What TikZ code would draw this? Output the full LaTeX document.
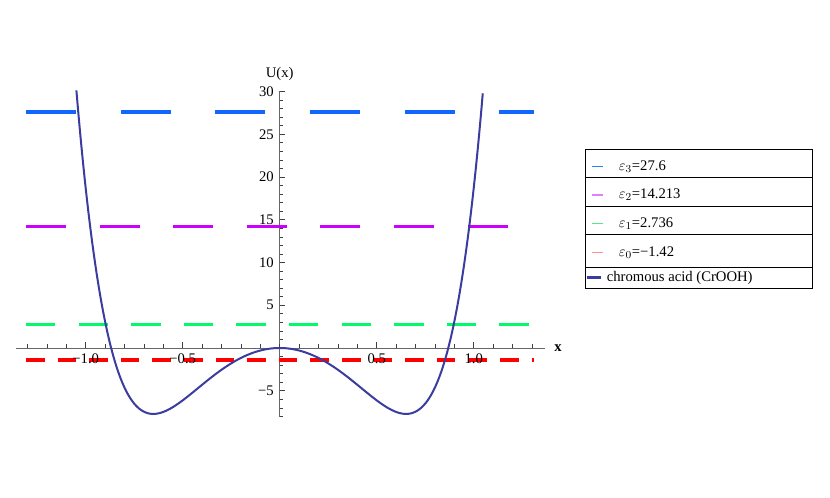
\documentclass[tikz,border=0pt]{standalone}
\usepackage{fontspec}
\setmainfont{Liberation Serif}
\usepackage{amsmath}
\usepackage{xcolor}
\usetikzlibrary{calc}

\definecolor{epsblue}{RGB}{16,102,255}
\definecolor{epsmagenta}{RGB}{204,0,255}
\definecolor{epsgreen}{RGB}{0,250,105}
\definecolor{epsred}{RGB}{255,0,0}
\definecolor{legblue}{RGB}{40,130,255}
\definecolor{legmagenta}{RGB}{225,125,255}
\definecolor{leggreen}{RGB}{90,230,140}
\definecolor{legred}{RGB}{255,145,145}
\definecolor{curveblue}{RGB}{60,60,160}

\begin{document}
\begin{tikzpicture}[x=0.75pt,y=0.75pt,yscale=-1,xscale=1,
    axisline/.style={draw=black!60, line width=0.6pt},
    tickline/.style={draw=black!75, line width=0.5pt},
    ticklab/.style={inner sep=0.75pt, font=\fontsize{11}{13}\selectfont},
    lvlthree/.style={draw=epsblue, line width=2.5pt, dash pattern={on 37.5pt off 33.5pt}},
    lvltwo/.style={draw=epsmagenta, line width=2.5pt, dash pattern={on 30pt off 25.2pt}},
    lvlone/.style={draw=epsgreen, line width=2.5pt, dash pattern={on 22pt off 17.45pt}},
    lvlzero/.style={draw=epsred, line width=2.7pt, dash pattern={on 14pt off 9.7pt}},
    potential/.style={draw=curveblue, line width=1.5pt},
    legframe/.style={draw=black, line width=0.5pt},
    legtext/.style={inner sep=0.75pt, anchor=west, font=\fontsize{11}{13}\selectfont}]
      \useasboundingbox (0,0) rectangle (830,498);

      % Axes
      \coordinate (O) at (279.7,348);
      \coordinate (xl) at (16,348);
      \coordinate (xr) at (545,348);
      \coordinate (yt) at (279.7,91.5);
      \coordinate (yb) at (279.7,417);
      \draw [axisline] (xl) -- (xr);
      \draw [axisline] (yb) -- (yt);

      % Ticks on the x axis
      \foreach \i in {-13,...,13} {
        \draw [tickline] ({279.7+19.4*\i},348) -- ++(0,-4);
      }
      \foreach \i in {-10,-5,5,10} {
        \draw [tickline] ({279.7+19.4*\i},348) -- ++(0,-6.5);
      }
      % Ticks on the y axis
      \foreach \j in {-8,...,30} {
        \draw [tickline] (279.7,{348-8.55*\j}) -- ++(3.3,0);
      }
      \foreach \j in {-5,5,10,...,30} {
        \draw [tickline] (279.7,{348-8.55*\j}) -- ++(5.2,0);
      }

      % Energy levels
      \draw [lvlthree] (26,{348-8.55*27.6}) -- (533.5,{348-8.55*27.6});
      \draw [lvltwo] (26,{348-8.55*14.213}) -- (533.5,{348-8.55*14.213});
      \draw [lvlone] (26,{348-8.55*2.736}) -- (533.5,{348-8.55*2.736});
      \draw [lvlzero] (26,{348+8.55*1.42}) -- (533.5,{348+8.55*1.42});

      % Potential curve
      \draw [potential] plot [domain=-1.048:1.048, samples=241, smooth]
        ({279.7+194*\x}, {348-8.55*(\x*\x)*(-29.64+(\x*\x)*(11.33+37*(\x*\x)))});

      % Text Node
      \node [ticklab, anchor=north] (xmone) at (85.7,352.5) {−1.0};
      \node [ticklab, anchor=north] (xmhalf) at (182.7,352.5) {−0.5};
      \node [ticklab, anchor=north] (xhalf) at (376.7,352.5) {0.5};
      \node [ticklab, anchor=north] (xone) at (473.7,352.5) {1.0};
      % Text Node
      \node [ticklab, anchor=east] (ymfive) at (275,390.75) {−5};
      \node [ticklab, anchor=east] (yfive) at (275,305.25) {5};
      \node [ticklab, anchor=east] (yten) at (275,262.5) {10};
      \node [ticklab, anchor=east] (yfifteen) at (275,219.75) {15};
      \node [ticklab, anchor=east] (ytwenty) at (275,177) {20};
      \node [ticklab, anchor=east] (ytwentyfive) at (275,134.25) {25};
      \node [ticklab, anchor=east] (ythirty) at (275,91.5) {30};
      % Text Node
      \node [ticklab, anchor=south] (ulab) at (279.7,81.5) {U(x)};
      \node [ticklab, anchor=west] (xlab) at (553,348) {\bfseries x};

      % Legend
      \coordinate (lgnw) at (585.7,149.3);
      \coordinate (lgse) at (812,288.3);
      \draw [legframe] (lgnw) rectangle (lgse);
      \draw [legframe] (585.7,177.7) -- (812,177.7);
      \draw [legframe] (585.7,206) -- (812,206);
      \draw [legframe] (585.7,234.3) -- (812,234.3);
      \draw [legframe] (585.7,267.3) -- (812,267.3);
      \draw [legblue, line width=0.8pt] (591.7,166.7) -- (603.3,166.7);
      \draw [legmagenta, line width=0.8pt] (591.7,195) -- (603.3,195);
      \draw [leggreen, line width=0.8pt] (591.7,223.3) -- (603.3,223.3);
      \draw [legred, line width=0.8pt] (591.7,252.3) -- (603.3,252.3);
      \draw [curveblue, line width=2pt] (586.7,277.7) -- (600.7,277.7);
      % Text Node
      \node [legtext] (ethree) at (617.5,166.7) {$\varepsilon_{3}$=27.6};
      \node [legtext] (etwo) at (617.5,195) {$\varepsilon_{2}$=14.213};
      \node [legtext] (eone) at (617.5,223.3) {$\varepsilon_{1}$=2.736};
      \node [legtext] (ezero) at (617.5,252.3) {$\varepsilon_{0}$=−1.42};
      \node [legtext] (crooh) at (605.5,277.7) {chromous acid (CrOOH)};
\end{tikzpicture}
\end{document}
